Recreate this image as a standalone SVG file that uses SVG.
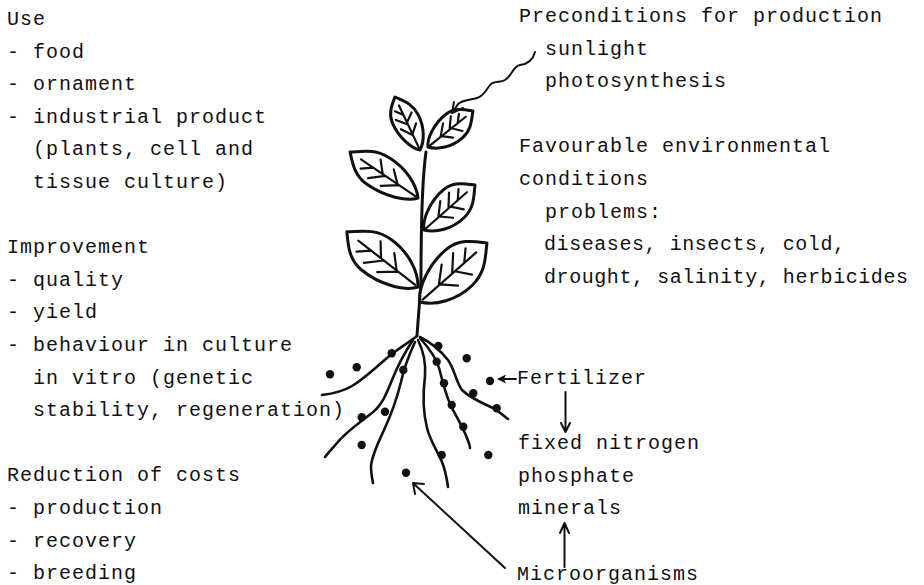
<svg xmlns="http://www.w3.org/2000/svg" width="924" height="585" viewBox="0 0 924 585">
  <style>
    text { font-family: "Liberation Mono", "Courier New", monospace; font-size: 20px; letter-spacing: 1px; fill: #111; }
    .ink { fill: none; stroke: #111; stroke-linecap: round; stroke-linejoin: round; }
    .leaf-outline { fill: #fff; stroke: #111; stroke-width: 3; stroke-linejoin: round; stroke-linecap: round; vector-effect: non-scaling-stroke; }
    .vein { fill: none; stroke: #111; stroke-width: 2.2; stroke-linecap: round; vector-effect: non-scaling-stroke; }
    .root { fill: none; stroke: #111; stroke-width: 2.6; stroke-linecap: round; }
    .dot { fill: #111; }
    .arrow { fill: none; stroke: #111; stroke-width: 2; stroke-linecap: round; stroke-linejoin: round; }
  </style>
  <defs>
    <!-- generic leaf: base at 0,0, tip at 100,0, half-width 50 -->
    <g id="leafShape">
      <path class="leaf-outline" d="M0,0 C8,-25 35,-50 62,-48 C80,-46 90,-22 100,0 C88,20 78,46 56,48 C32,50 10,28 0,0 Z"/>
      <path class="vein" d="M4,0 L84,0 M28,0 L46,-30 M48,0 L64,-32 M66,0 L78,-22 M30,0 L44,28 M52,0 L64,30"/>
    </g>
  </defs>

  <!-- left column -->
  <g id="use">
    <text x="7" y="25">Use</text>
    <text x="7" y="57.6">- food</text>
    <text x="7" y="90.2">- ornament</text>
    <text x="7" y="122.8">- industrial product</text>
    <text x="33" y="155.4">(plants, cell and</text>
    <text x="33" y="188">tissue culture)</text>
  </g>
  <g id="improvement">
    <text x="7" y="253.2">Improvement</text>
    <text x="7" y="285.8">- quality</text>
    <text x="7" y="318.4">- yield</text>
    <text x="7" y="351">- behaviour in culture</text>
    <text x="33" y="383.6">in vitro (genetic</text>
    <text x="33" y="416.2">stability, regeneration)</text>
  </g>
  <g id="costs">
    <text x="7" y="481.4">Reduction of costs</text>
    <text x="7" y="514">- production</text>
    <text x="7" y="546.6">- recovery</text>
    <text x="7" y="579.2">- breeding</text>
  </g>

  <!-- right column -->
  <g id="preconditions">
    <text x="519" y="22">Preconditions for production</text>
    <text x="545" y="54.6">sunlight</text>
    <text x="545" y="87.2">photosynthesis</text>
  </g>
  <g id="environment">
    <text x="519" y="152.4">Favourable environmental</text>
    <text x="519" y="185">conditions</text>
    <text x="545" y="217.6">problems:</text>
    <text x="544" y="250.2" textLength="302" lengthAdjust="spacing">diseases, insects, cold,</text>
    <text x="544" y="282.8" textLength="365" lengthAdjust="spacing">drought, salinity, herbicides</text>
  </g>
  <g id="fertilizer">
    <text x="517" y="384">Fertilizer</text>
  </g>
  <g id="nutrients">
    <text x="518" y="449">fixed nitrogen</text>
    <text x="518" y="481.6">phosphate</text>
    <text x="518" y="514.2">minerals</text>
  </g>
  <g id="microorganisms">
    <text x="517" y="579.6">Microorganisms</text>
  </g>

  <!-- plant -->
  <g id="plant">
    <path class="ink" stroke-width="3" d="M426,152 C422,180 421,230 421,280 C420,300 418,320 417,336"/>
    <g id="leaves">
      <use href="#leafShape" transform="translate(420,150) rotate(-115.3) scale(0.586,0.28)"/>
      <use href="#leafShape" transform="translate(428,147) rotate(-38.7) scale(0.576,0.30)"/>
      <use href="#leafShape" transform="translate(418,198) rotate(-145.9) scale(0.82,0.36)"/>
      <use href="#leafShape" transform="translate(424,230) rotate(-41.4) scale(0.68,0.36)"/>
      <use href="#leafShape" transform="translate(418,287) rotate(-142.2) scale(0.90,0.44)"/>
      <use href="#leafShape" transform="translate(420,302) rotate(-41.4) scale(0.893,0.46)"/>
    </g>
    <g id="roots">
      <path class="root" d="M417,336 C405,345 395,351 387,358 C375,368 365,378 352,386 C342,392 330,394 322,395"/>
      <path class="root" d="M413,340 C405,352 398,365 392,380 C386,395 382,405 372,413 C360,422 345,433 337,443 C332,449 328,453 325,457"/>
      <path class="root" d="M415,342 C409,355 404,368 401,382 C397,398 391,415 384,430 C378,443 372,455 371,466 C371,473 372,478 373,483"/>
      <path class="root" d="M418,340 C423,350 426,362 425,376 C423,392 423,412 427,428 C431,443 438,452 442,462 C446,472 447,480 448,487"/>
      <path class="root" d="M420,338 C428,347 436,357 439,368 C443,382 446,398 453,410 C459,421 464,430 467,438 C469,443 470,446 470,448"/>
      <path class="root" d="M420,337 C430,342 440,350 448,360 C455,370 456,382 462,390 C470,398 482,403 493,408 C500,412 504,416 508,419"/>
    </g>
    <g id="soil-particles">
      <circle class="dot" cx="391.7" cy="353.3" r="4.2"/>
      <circle class="dot" cx="356.7" cy="367.3" r="4.2"/>
      <circle class="dot" cx="330" cy="374.3" r="4.2"/>
      <circle class="dot" cx="438.3" cy="346" r="4.2"/>
      <circle class="dot" cx="466.7" cy="358.3" r="4.2"/>
      <circle class="dot" cx="436.7" cy="361.7" r="4.2"/>
      <circle class="dot" cx="403.3" cy="370" r="4.2"/>
      <circle class="dot" cx="444" cy="383.3" r="4.2"/>
      <circle class="dot" cx="490" cy="381" r="4.2"/>
      <circle class="dot" cx="473.3" cy="393.3" r="4.2"/>
      <circle class="dot" cx="385" cy="411.7" r="4.2"/>
      <circle class="dot" cx="361.7" cy="417.3" r="4.2"/>
      <circle class="dot" cx="451.7" cy="405" r="4.2"/>
      <circle class="dot" cx="496.7" cy="408.3" r="4.2"/>
      <circle class="dot" cx="463.3" cy="426.7" r="4.2"/>
      <circle class="dot" cx="361.7" cy="445" r="4.2"/>
      <circle class="dot" cx="441.7" cy="455" r="4.2"/>
      <circle class="dot" cx="488.3" cy="455" r="4.2"/>
      <circle class="dot" cx="406" cy="472.7" r="4.2"/>
    </g>
  </g>

  <!-- connectors -->
  <g id="connectors">
    <!-- sunlight ray -->
    <path class="arrow" d="M535,52 C533,60 528,64 520,65 C513,66 512,76 505,80 C500,83 494,80 490,85 C486,90 484,96 477,98 C470,100 462,100 458,104 L453,112"/>
    <path class="arrow" d="M454,102 L452,113 L463,108"/>
    <!-- fertilizer to soil -->
    <path class="arrow" d="M516,379 L499,379"/>
    <path d="M497,379 L506,374.5 L504,379 L506,383.5 Z" fill="#111"/>
    <!-- fertilizer to nutrients -->
    <path class="arrow" d="M565.5,392 L565.5,431 M561,423 L565.5,432 L570,423"/>
    <!-- microorganisms to minerals -->
    <path class="arrow" d="M564.5,567 L564.5,524 M560,533 L564.5,523 L569,533"/>
    <!-- microorganisms to roots -->
    <path class="arrow" d="M505,568 L414,484 M415,494 L413,483 L424,484"/>
  </g>
</svg>
